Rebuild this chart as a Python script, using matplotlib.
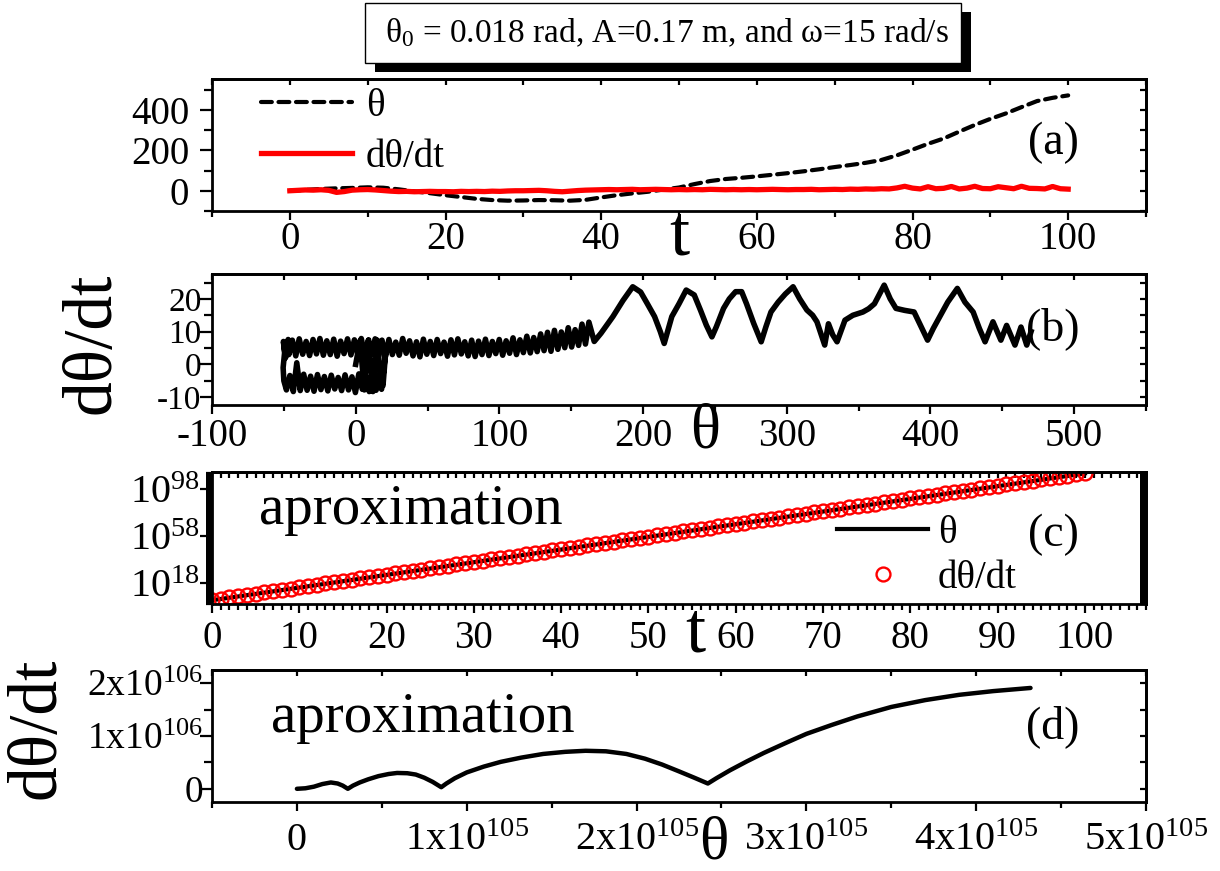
import matplotlib
matplotlib.use('Agg')
import matplotlib.pyplot as plt
import numpy as np
from matplotlib.patches import Rectangle
from matplotlib.ticker import FixedLocator, FixedFormatter, NullFormatter

plt.rcParams['font.family'] = ['Liberation Serif', 'DejaVu Serif']
plt.rcParams['mathtext.fontset'] = 'custom'
plt.rcParams['mathtext.rm'] = 'Liberation Serif'
plt.rcParams['mathtext.it'] = 'Liberation Serif:italic'
plt.rcParams['mathtext.bf'] = 'Liberation Serif:bold'
plt.rcParams['axes.unicode_minus'] = False

# ---------------- data ----------------
title_text = 'θ$_0$ = 0.018 rad, A=0.17 m, and ω=15 rad/s'

# panel (a): theta(t) and dtheta/dt(t)
t_a_theta = list(range(0, 101, 2))
theta_a = [0, 4, 9, 12, 14, 17, 15, 7, -3, -12,
           -22, -31, -40, -46, -49, -48, -46, -47, -49, -45,
           -33, -22, -13, -5, 6, 16, 33, 48, 58, 64,
           71, 79, 87, 96, 106, 117, 127, 138, 152, 175,
           203, 232, 258, 292, 325, 355, 382, 413, 443, 459,
           471]
t_a_dtheta = list(range(0, 101))
dtheta_a = [0, 2, 4, 3, 5, 2, -8, -4, 3, 5,
            6, 4, 1, -2, -4, -3, -5, -4, -3, -4,
            -4, -5, -3, -4, -3, -4, -2, -3, -1, 0,
            0, 1, 2, 0, -3, -5, -2, 1, 3, 4,
            5, 6, 5, 6, 7, 5, 6, 7, 6, 5,
            6, 5, 6, 5, 7, 6, 5, 6, 5, 6,
            5, 6, 7, 6, 5, 6, 6, 7, 5, 6,
            7, 6, 8, 7, 9, 8, 10, 9, 14, 22,
            13, 9, 20, 10, 12, 21, 9, 13, 22, 11,
            10, 20, 15, 10, 22, 12, 11, 9, 21, 10,
            8]
a_xticks = [0, 20, 40, 60, 80, 100]
a_xticklabels = ['0', '20', '40', '60', '80', '100']
a_yticks = [0, 200, 400]
a_yticklabels = ['0', '200', '400']

# panel (b): phase portrait dtheta/dt vs theta
theta_b = [0, 3, 6, 9, 12, 15, 18, 21, 19,
           16.6, 14.2, 11.8, 9.4, 7.0, 4.6, 2.2, -0.2, -2.6, -5.0,
           -7.4, -9.8, -12.2, -14.6, -17.0, -19.4, -21.8, -24.2, -26.6, -29.0,
           -31.4, -33.8, -36.2, -38.6, -41.0, -43.4, -45.8, -48.2,
           -50.0, -50.5, -49.5, -50.3, -48.8, -47.0,
           -46.5, -44.1, -41.7, -39.3, -36.9, -34.5, -32.1, -29.7, -27.3, -24.9,
           -22.5, -20.1, -17.7, -15.3, -12.9, -10.5, -8.1, -5.7, -3.3, -0.9,
           1.5, 3.9, 6.3, 8.7, 11.1, 13.5, 15.9, 18.3, 20.7, 23.1,
           25.5, 27.9, 30.3, 32.7, 35.1, 37.5, 39.9, 42.3, 44.7, 47.1,
           49.5, 51.9, 54.3, 56.7, 59.1, 61.5, 63.9, 66.3, 68.7, 71.1,
           73.5, 75.9, 78.3, 80.7, 83.1, 85.5, 87.9, 90.3, 92.7, 95.1,
           97.5, 99.9, 102.3, 104.7, 107.1, 109.5, 111.9, 114.3, 116.7, 119.1,
           121.5, 123.9, 126.3, 128.7, 131.1, 133.5, 135.9, 138.3, 140.7, 143.1,
           145.5, 147.9, 150.3, 152.7, 155.1, 157.5, 159.9, 162.3, 166.0,
           170.7, 179, 186, 192.8, 198.3, 203, 208, 212, 214.7, 217,
           220, 225, 230, 235.6, 240, 244, 247.9, 251, 256, 260,
           264.4, 268.6, 272, 277, 282.2, 285.5, 289, 294, 299, 304.4,
           309, 314, 318, 321, 324, 326.4, 329, 332, 335, 340.5,
           346, 353, 357, 361, 364, 367.8, 372, 376, 382, 388.6,
           393, 398, 402, 406.5, 412, 418.7, 424, 429.7, 434, 438,
           443.5, 449, 453, 458.8, 463, 467, 470]
dtheta_b = [0, 7.2, -7.8, 7.5, -8.3, 7.4, -7.6, 4.5, -6.5,
            -3.4, -7.9, -3.0, -8.3, -3.5, -7.6, -2.9, -8.6, -3.8, -7.8,
            -3.2, -8.0, -4.0, -7.5, -3.3, -8.1, -3.7, -7.7, -3.1, -8.2,
            -3.6, -7.9, -3.0, -8.0, 0.5, -8.3, -3.4, -7.8,
            -5.0, -1.0, 3.5, 7.0, 2.0, 7.6,
            3.0, 7.4, 2.6, 7.8, 3.1, 7.0, 2.7, 7.6, 3.2, 7.9,
            2.8, 7.2, 3.0, 7.7, 2.5, 7.1, 3.3, 7.8, 2.9, 7.5,
            3.0, 7.9, 2.7, 7.3, 3.1, 7.8, 2.6, 7.4, 2.4, 7.6,
            3.0, 6.8, 2.8, 7.9, 3.4, 7.2, 2.6, 6.9, 2.3, 7.7,
            3.1, 7.0, 2.7, 7.6, 3.3, 6.8, 2.5, 7.5, 2.9, 7.8,
            3.2, 6.9, 2.6, 7.4, 2.4, 7.1, 3.0, 7.7, 2.7, 7.0,
            3.3, 7.6, 2.8, 7.2, 3.4, 8.1, 3.0, 7.5, 3.6, 8.6,
            3.5, 8.2, 3.9, 9.3, 4.2, 9.8, 4.0, 10.4, 4.6, 9.9,
            5.1, 11.2, 5.3, 10.6, 5.8, 12.3, 6.2, 12.9, 7.0,
            9.5, 14.6, 19.5, 23.7, 22.1, 18.5, 14.6, 10, 6.4, 10,
            14.6, 18.5, 22.7, 21.2, 16.5, 12, 8.4, 11.5, 17.1, 20,
            22.2, 22.2, 18.5, 12.5, 6.9, 11.5, 16, 19, 21.5, 23.7,
            20, 16.6, 15, 13, 9, 5.9, 12.4, 9, 6.9, 13.5,
            15, 16, 17, 18.5, 21, 24.2, 20, 17.1, 16.5, 16,
            12, 7.4, 11, 14.6, 19, 23.2, 19, 16, 11, 6.9,
            13, 7.4, 11.9, 5.9, 11.4, 5.9, 10]
b_xticks = [-100, 0, 100, 200, 300, 400, 500]
b_xticklabels = ['-100', '0', '100', '200', '300', '400', '500']
b_yticks = [-10, 0, 10, 20]
b_yticklabels = ['-10', '0', '10', '20']

# panel (c): approximation, log10 of values vs t
t_c = list(range(0, 101))
log_dtheta_c = [3.4, 4.5, 5.6, 6.6, 7.7, 8.8, 9.9, 11.0, 12.1, 13.1,
                14.2, 15.3, 16.4, 17.5, 18.5, 19.6, 20.7, 21.8, 22.9, 24.0,
                25.0, 26.1, 27.2, 28.3, 29.4, 30.5, 31.5, 32.6, 33.7, 34.8,
                35.9, 36.9, 38.0, 39.1, 40.2, 41.3, 42.4, 43.4, 44.5, 45.6,
                46.7, 47.8, 48.8, 49.9, 51.0, 52.1, 53.2, 54.3, 55.3, 56.4,
                57.5, 58.6, 59.7, 60.7, 61.8, 62.9, 64.0, 65.1, 66.2, 67.2,
                68.3, 69.4, 70.5, 71.6, 72.6, 73.7, 74.8, 75.9, 77.0, 78.1,
                79.1, 80.2, 81.3, 82.4, 83.5, 84.6, 85.6, 86.7, 87.8, 88.9,
                90.0, 91.0, 92.1, 93.2, 94.3, 95.4, 96.5, 97.5, 98.6, 99.7,
                100.8, 101.9, 102.9, 104.0, 105.1, 106.2, 107.3, 108.4, 109.4, 110.5,
                111.6]
t_c_theta = [0, 10, 20, 30, 40, 50, 60, 70, 80, 90, 100]
log_theta_c = [3.2, 14.0, 24.8, 35.6, 46.4, 57.2, 68.0, 78.8, 89.6, 100.4, 111.3]
c_xticks = [0, 10, 20, 30, 40, 50, 60, 70, 80, 90, 100]
c_xticklabels = ['0', '10', '20', '30', '40', '50', '60', '70', '80', '90', '100']
c_yticks = [1e18, 1e58, 1e98]
c_yticklabels = ['10$^{18}$', '10$^{58}$', '10$^{98}$']

# panel (d): approximation, dtheta/dt (x1e106) vs theta (x1e105)
theta_d = [0, 0.05, 0.10, 0.15, 0.20, 0.24, 0.27, 0.30,
           0.33, 0.37, 0.42, 0.48, 0.54, 0.59, 0.65, 0.70, 0.75, 0.80, 0.85,
           0.88, 0.93, 1.00, 1.10, 1.20, 1.32, 1.45, 1.58, 1.70, 1.82, 1.94,
           2.05, 2.15, 2.25, 2.34, 2.42,
           2.47, 2.55, 2.65, 2.75, 2.88, 3.00, 3.15, 3.30, 3.50, 3.70,
           3.90, 4.10, 4.32]
dtheta_d = [0, 0.01, 0.04, 0.09, 0.12, 0.10, 0.06, 0.0,
            0.06, 0.12, 0.18, 0.24, 0.28, 0.30, 0.295, 0.27, 0.21, 0.13, 0.03,
            0.10, 0.20, 0.31, 0.42, 0.51, 0.59, 0.66, 0.70, 0.72, 0.71, 0.66,
            0.57, 0.46, 0.33, 0.21, 0.10,
            0.20, 0.35, 0.52, 0.68, 0.87, 1.04, 1.21, 1.37, 1.55, 1.68,
            1.78, 1.85, 1.91]
d_xticks = [0, 1e105, 2e105, 3e105, 4e105, 5e105]
d_xticklabels = ['0', '1x10$^{105}$', '2x10$^{105}$', '3x10$^{105}$', '4x10$^{105}$', '5x10$^{105}$']
d_yticks = [0, 1e106, 2e106]
d_yticklabels = ['0', '1x10$^{106}$', '2x10$^{106}$']

# ---------------- figure ----------------
W, H = 1220, 871
fig = plt.figure(figsize=(W / 100, H / 100), dpi=100)


def fx(p):
    return p / W


def fy(p):
    return 1 - p / H


def make_axes(top, bottom, left=212, right=1146):
    return fig.add_axes([fx(left), fy(bottom), (right - left) / W, (bottom - top) / H])


def style(ax, xmaj, xmin, ymaj, ymin, xlabels, ylabels, xls, yls, xpad, ypad):
    for s in ax.spines.values():
        s.set_linewidth(2.0)
    ax.xaxis.set_major_locator(FixedLocator(xmaj))
    ax.xaxis.set_minor_locator(FixedLocator(xmin))
    ax.yaxis.set_major_locator(FixedLocator(ymaj))
    ax.yaxis.set_minor_locator(FixedLocator(ymin))
    ax.xaxis.set_major_formatter(FixedFormatter(xlabels))
    ax.yaxis.set_major_formatter(FixedFormatter(ylabels))
    ax.tick_params(which='both', direction='out', width=1.6, top=False, right=False)
    ax.tick_params(axis='x', which='major', length=6.5, labelsize=xls, pad=xpad)
    ax.tick_params(axis='x', which='minor', length=4.5)
    ax.tick_params(axis='y', which='major', length=8.5, labelsize=yls, pad=ypad)
    ax.tick_params(axis='y', which='minor', length=5.5)
    sx = ax.secondary_xaxis('top')
    sx.xaxis.set_major_locator(FixedLocator(xmaj))
    sx.xaxis.set_minor_locator(FixedLocator(xmin))
    sx.xaxis.set_major_formatter(NullFormatter())
    sx.tick_params(which='both', direction='in', width=1.6, length=4.5)
    sx.spines['top'].set_linewidth(2.0)
    sy = ax.secondary_yaxis('right')
    sy.yaxis.set_major_locator(FixedLocator(ymaj))
    sy.yaxis.set_minor_locator(FixedLocator(ymin))
    sy.yaxis.set_major_formatter(NullFormatter())
    sy.yaxis.set_minor_formatter(NullFormatter())
    sy.tick_params(which='both', direction='in', width=1.6, length=4.5)
    sy.spines['right'].set_linewidth(2.0)


# ---- (a)
ax_a = make_axes(79, 211)
ax_a.plot(t_a_theta, theta_a, color='black', lw=3.0, ls=(0, (2.6, 1.6)),
          dash_capstyle='round', label='θ')
ax_a.plot(t_a_dtheta, dtheta_a, color='red', lw=3.8, label='dθ/dt')
ax_a.set_xlim(-10, 110)
ax_a.set_ylim(-100, 552)
style(ax_a, a_xticks, list(range(-10, 111, 10)), a_yticks, list(range(-100, 551, 100)),
      a_xticklabels, a_yticklabels, 28, 28, 1, 8)
ax_a.legend(loc='upper left', bbox_to_anchor=(fx(261), fy(88)), bbox_transform=fig.transFigure,
            frameon=False, fontsize=28, borderpad=0, borderaxespad=0,
            handlelength=2.35, handletextpad=0.35, labelspacing=0.35)

# ---- (b)
ax_b = make_axes(274, 405)
ax_b.plot(theta_b, dtheta_b, color='black', lw=4.0, solid_joinstyle='round')
ax_b.set_xlim(-100, 550)
ax_b.set_ylim(-12.4, 27.6)
style(ax_b, b_xticks, list(range(-100, 551, 50)), b_yticks, list(range(-10, 26, 5)),
      b_xticklabels, b_yticklabels, 28, 24, 3, -1)

# ---- (c)
ax_c = make_axes(472, 604)
ax_c.set_yscale('log')
ax_c.plot(t_c_theta, [10.0 ** v for v in log_theta_c], color='black', lw=3.0, label='θ')
ax_c.plot(t_c, [10.0 ** v for v in log_dtheta_c], ls='none', marker='o', ms=10,
          mfc='none', mec='red', mew=1.7, label='dθ/dt')
ax_c.set_xlim(0, 107)
ax_c.set_ylim(1e0, 10 ** 112.5)
style(ax_c, c_xticks, list(range(0, 108)), c_yticks, [10.0 ** k for k in range(0, 113)],
      c_xticklabels, c_yticklabels, 28, 29, 5, 0)
ax_c.yaxis.set_minor_formatter(NullFormatter())
ax_c.tick_params(axis='y', which='minor', length=4)
ax_c.legend(loc='upper left', bbox_to_anchor=(fx(837), fy(515)), bbox_transform=fig.transFigure,
            frameon=False, fontsize=28, borderpad=0, borderaxespad=0,
            handlelength=2.35, handletextpad=0.25, labelspacing=0.2)
ax_c.text(fx(411), fy(510), 'aproximation', transform=fig.transFigure, fontsize=41,
          ha='center', va='center')

# ---- (d)
ax_d = make_axes(670, 802)
ax_d.plot([v * 1e105 for v in theta_d], [v * 1e106 for v in dtheta_d], color='black', lw=3.2,
          solid_capstyle='round', solid_joinstyle='round')
ax_d.set_xlim(-0.5e105, 5e105)
ax_d.set_ylim(-0.25e106, 2.25e106)
style(ax_d, d_xticks, [k * 0.5e105 for k in range(-1, 11)], d_yticks,
      [k * 0.5e106 for k in range(-1, 5)], d_xticklabels, d_yticklabels, 29, 27, 8, -2)
ax_d.text(fx(423), fy(718), 'aproximation', transform=fig.transFigure, fontsize=41,
          ha='center', va='center')

# axis titles and panel labels
fig.text(fx(679), fy(237), 't', fontsize=52, ha='center', va='center')
fig.text(fx(705), fy(432), 'θ', fontsize=45, ha='center', va='center')
fig.text(fx(695), fy(634), 't', fontsize=52, ha='center', va='center')
fig.text(fx(714), fy(844), 'θ', fontsize=44, ha='center', va='center')
fig.text(fx(93), fy(343), 'dθ/dt', fontsize=50, rotation=90, ha='center', va='center')
fig.text(fx(38), fy(728), 'dθ/dt', fontsize=50, rotation=90, ha='center', va='center')
for lab, py in [('(a)', 143), ('(b)', 329), ('(c)', 535), ('(d)', 727)]:
    fig.text(fx(1053), fy(py), lab, fontsize=33, ha='center', va='center')

# title box with shadow
fig.add_artist(Rectangle((fx(375), fy(72)), (971 - 375) / W, (72 - 12) / H,
                         transform=fig.transFigure, facecolor='black', edgecolor='none'))
fig.add_artist(Rectangle((fx(365), fy(63)), (961 - 365) / W, (63 - 3) / H,
                         transform=fig.transFigure, facecolor='white', edgecolor='black', lw=1.0))
fig.text(fx(667), fy(33), title_text, fontsize=24, ha='center', va='center')

fig.savefig('out.png', dpi=100)
